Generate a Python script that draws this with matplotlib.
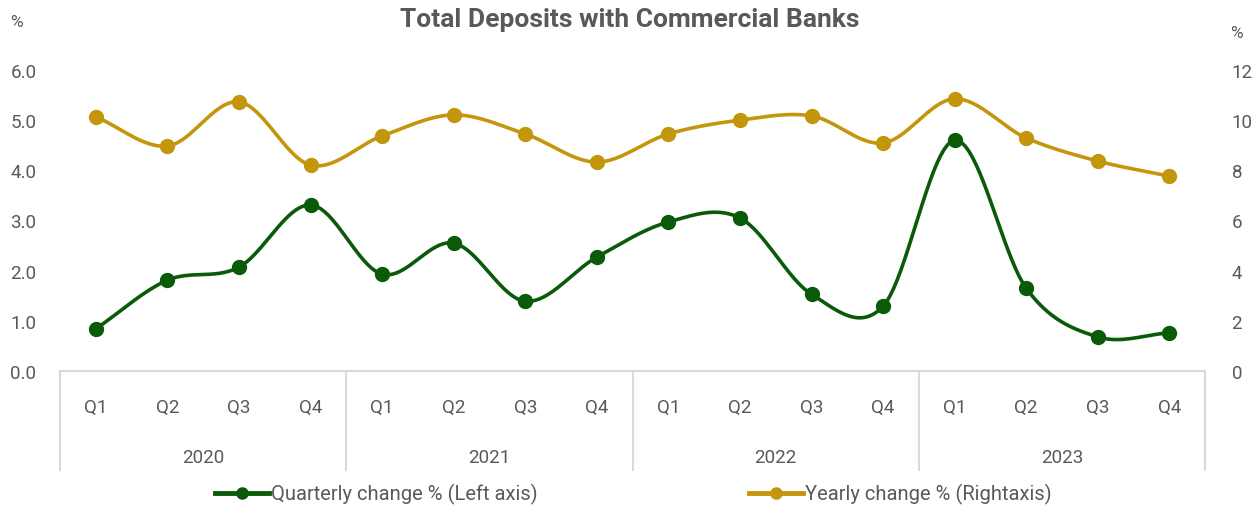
import numpy as np
import matplotlib
matplotlib.use("Agg")
import matplotlib.pyplot as plt
from matplotlib.lines import Line2D
from matplotlib.transforms import blended_transform_factory

years = ["2020", "2021", "2022", "2023"]
quarters = ["Q1", "Q2", "Q3", "Q4"]

# quarterly change (left axis) and yearly change (right axis), %
quarterly = [0.84, 1.81, 2.07, 3.31,
             1.93, 2.55, 1.39, 2.27,
             2.97, 3.05, 1.53, 1.29,
             4.60, 1.65, 0.68, 0.76]
yearly = [10.13, 8.97, 10.73, 8.21,
          9.37, 10.21, 9.45, 8.33,
          9.45, 10.00, 10.17, 9.09,
          10.85, 9.29, 8.37, 7.77]

green = "#0a5a0a"
gold = "#c4960c"
grey = "#595959"
light = "#d9d9d9"

plt.rcParams["font.family"] = ["Roboto", "DejaVu Sans"]


def smooth(x, y, steps=20):
    # Catmull-Rom curve through the points, like a spreadsheet "smoothed line"
    x = np.asarray(x, float)
    y = np.asarray(y, float)
    px = np.concatenate([[2 * x[0] - x[1]], x, [2 * x[-1] - x[-2]]])
    py = np.concatenate([[2 * y[0] - y[1]], y, [2 * y[-1] - y[-2]]])
    xs, ys = [], []
    t = np.linspace(0, 1, steps, endpoint=False)
    for i in range(1, len(px) - 2):
        for p, out in ((px, xs), (py, ys)):
            p0, p1, p2, p3 = p[i - 1], p[i], p[i + 1], p[i + 2]
            out.extend(0.5 * (2 * p1 + (-p0 + p2) * t
                              + (2 * p0 - 5 * p1 + 4 * p2 - p3) * t ** 2
                              + (-p0 + 3 * p1 - 3 * p2 + p3) * t ** 3))
    xs.append(x[-1])
    ys.append(y[-1])
    return np.array(xs), np.array(ys)


n = len(quarterly)
x = np.arange(n)

fig = plt.figure(figsize=(12.59, 5.10), dpi=100)
ax = fig.add_axes([0.0477, 0.2706, 0.9095, 0.5902])
ax2 = ax.twinx()

sx, sy = smooth(x, yearly)
ax2.plot(sx, sy, color=gold, lw=2.6, solid_capstyle="round")
ax2.plot(x, yearly, "o", color=gold, ms=10)

sx, sy = smooth(x, quarterly)
ax.plot(sx, sy, color=green, lw=2.6, solid_capstyle="round", zorder=3)
ax.plot(x, quarterly, "o", color=green, ms=10, zorder=3)
ax.set_zorder(ax2.get_zorder() + 1)
ax.patch.set_visible(False)

ax.set_xlim(-0.5, n - 0.5)
ax.set_ylim(0, 6)
ax2.set_ylim(0, 12)
ax.set_yticks(np.arange(0, 6.1, 1.0))
ax.set_yticklabels([f"{v:.1f}" for v in np.arange(0, 6.1, 1.0)])
ax2.set_yticks(np.arange(0, 13, 2))
ax.set_xticks([])

for a in (ax, ax2):
    for s in a.spines.values():
        s.set_visible(False)
    a.tick_params(axis="y", length=0, labelsize=13.5, labelcolor=grey)
ax.tick_params(axis="y", pad=17)
ax2.tick_params(axis="y", pad=19)
ax.spines["bottom"].set_visible(True)
ax.spines["bottom"].set_color(light)
ax.spines["bottom"].set_linewidth(1.5)

# two-level category axis
tr = blended_transform_factory(ax.transData, ax.transAxes)
for i in range(n):
    ax.text(x[i], -0.118, quarters[i % 4], transform=tr, ha="center", va="center",
            fontsize=13.5, color=grey)
for k, yr in enumerate(years):
    ax.text(4 * k + 1.5, -0.285, yr, transform=tr, ha="center", va="center",
            fontsize=13.5, color=grey)
for b in range(len(years) + 1):
    ax.plot([4 * b - 0.5] * 2, [0, -0.33], transform=tr, color=light, lw=1.5,
            clip_on=False)

fig.text(0.008, 0.955, "%", fontsize=12.5, color=grey, ha="left", va="center")
fig.text(0.987, 0.935, "%", fontsize=12.5, color=grey, ha="right", va="center")
fig.text(0.5, 0.96, "Total Deposits with Commercial Banks", fontsize=19,
         fontweight="bold", color=grey, ha="center", va="center")

handles = [Line2D([], [], color=green, lw=3.5, marker="o", ms=8),
           Line2D([], [], color=gold, lw=3.5, marker="o", ms=8)]
fig.legend(handles, ["Quarterly change % (Left axis)", "Yearly change % (Rightaxis)"],
           loc="center", bbox_to_anchor=(0.503, 0.03), ncol=2, frameon=False,
           fontsize=14.5, labelcolor=grey, handlelength=2.7, handletextpad=0.1,
           columnspacing=10.5)

fig.savefig("out.png", dpi=100)
